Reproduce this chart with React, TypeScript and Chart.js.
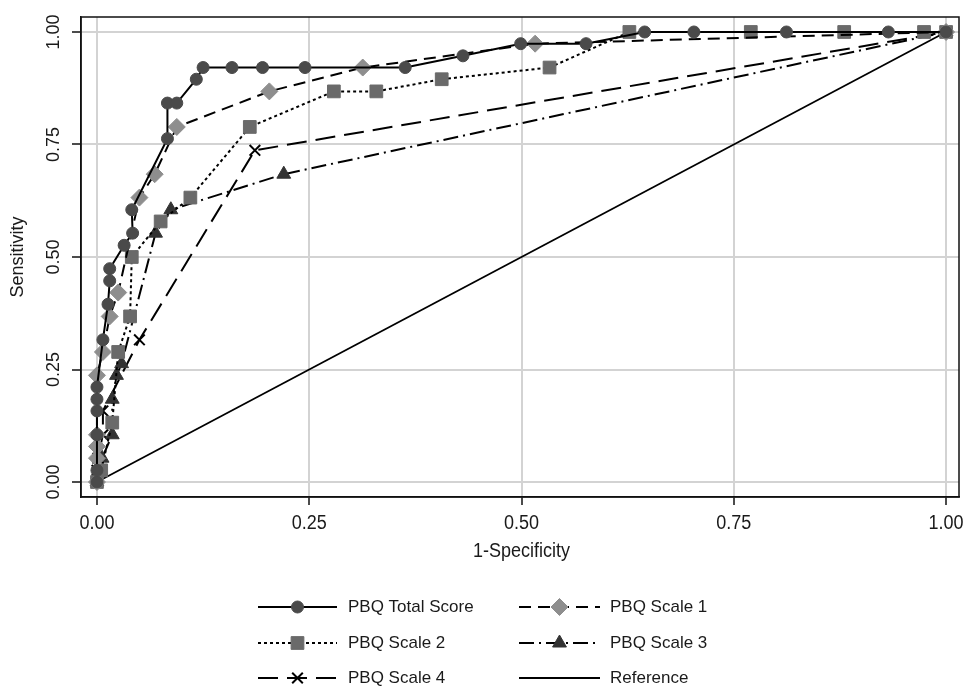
import React, { useEffect, useRef } from 'react';
import { Chart, registerables } from 'chart.js';
import { drawPoint } from 'chart.js/helpers';

Chart.register(...registerables);

const FONT = "'Liberation Sans', Arial, sans-serif";
const X_FONT_SIZE = 20;
const X_CONDENSE = 0.9;
const Y_FONT_SIZE = 18;
const LEGEND_FONT_SIZE = 17;

const xTickValues = [0, 0.25, 0.5, 0.75, 1];
const yTickValues = [0, 0.25, 0.5, 0.75, 1];
const tickLabels = ['0.00', '0.25', '0.50', '0.75', '1.00'];
const xTitle = '1-Specificity';
const yTitle = 'Sensitivity';

const seriesNames = ['PBQ Total Score', 'PBQ Scale 1', 'PBQ Scale 2', 'PBQ Scale 3', 'PBQ Scale 4', 'Reference'];

const totalX = [0, 0, 0, 0, 0, 0, 0.007, 0.013, 0.015, 0.015, 0.032, 0.042, 0.041, 0.083, 0.083, 0.094, 0.117, 0.125, 0.159, 0.195, 0.245, 0.363, 0.431, 0.499, 0.576, 0.645, 0.703, 0.812, 0.932, 1];
const totalY = [0, 0.026, 0.105, 0.158, 0.184, 0.211, 0.316, 0.395, 0.447, 0.474, 0.526, 0.553, 0.605, 0.763, 0.842, 0.842, 0.895, 0.921, 0.921, 0.921, 0.921, 0.921, 0.947, 0.974, 0.974, 1, 1, 1, 1, 1];

const s1X = [0, 0, 0, 0, 0, 0.007, 0.015, 0.025, 0.05, 0.068, 0.094, 0.203, 0.313, 0.516, 1];
const s1Y = [0, 0.053, 0.079, 0.105, 0.237, 0.289, 0.368, 0.421, 0.632, 0.684, 0.789, 0.868, 0.921, 0.974, 1];

const s2X = [0, 0.005, 0.018, 0.025, 0.039, 0.041, 0.075, 0.11, 0.18, 0.279, 0.329, 0.406, 0.533, 0.627, 0.77, 0.88, 0.974, 1];
const s2Y = [0, 0.026, 0.132, 0.289, 0.368, 0.5, 0.579, 0.632, 0.789, 0.868, 0.868, 0.895, 0.921, 1, 1, 1, 1, 1];

const s3X = [0, 0.006, 0.018, 0.018, 0.023, 0.029, 0.069, 0.087, 0.22, 1];
const s3Y = [0, 0.053, 0.105, 0.184, 0.237, 0.263, 0.553, 0.605, 0.684, 1];

const s4X = [0, 0, 0.001, 0.007, 0.007, 0.05, 0.186, 1];
const s4Y = [0, 0.026, 0.053, 0.105, 0.158, 0.316, 0.737, 1];

const refX = [0, 1];
const refY = [0, 1];

const zip = (xs: number[], ys: number[]) => xs.map((x, i) => ({ x, y: ys[i] }));

const legendRows = [607, 643, 678];
const legendCols = [
  { start: 258, end: 337, text: 348 },
  { start: 519, end: 600, text: 610 },
];

function condensedText(ctx: CanvasRenderingContext2D, text: string, x: number, y: number) {
  ctx.save();
  ctx.translate(x, y);
  ctx.scale(X_CONDENSE, 1);
  ctx.fillText(text, 0, 0);
  ctx.restore();
}

const customPlugin = {
  id: 'customDecor',
  afterDraw(chart: any) {
    const { ctx, chartArea, scales } = chart;
    ctx.save();
    ctx.setLineDash([]);
    ctx.strokeStyle = '#111';
    ctx.lineWidth = 1.5;
    ctx.strokeRect(chartArea.left, chartArea.top, chartArea.right - chartArea.left, chartArea.bottom - chartArea.top);

    ctx.fillStyle = '#1a1a1a';
    ctx.textAlign = 'center';
    ctx.textBaseline = 'middle';
    ctx.font = `${X_FONT_SIZE}px ${FONT}`;
    xTickValues.forEach((v, i) => {
      condensedText(ctx, tickLabels[i], scales.x.getPixelForValue(v), 523);
    });
    condensedText(ctx, xTitle, scales.x.getPixelForValue(0.5), 551);

    ctx.font = `${Y_FONT_SIZE}px ${FONT}`;
    yTickValues.forEach((v, i) => {
      ctx.save();
      ctx.translate(54, scales.y.getPixelForValue(v));
      ctx.rotate(-Math.PI / 2);
      ctx.fillText(tickLabels[i], 0, 0);
      ctx.restore();
    });
    ctx.save();
    ctx.translate(18, (chartArea.top + chartArea.bottom) / 2);
    ctx.rotate(-Math.PI / 2);
    ctx.fillText(yTitle, 0, 0);
    ctx.restore();

    chart.data.datasets.forEach((ds: any, i: number) => {
      const col = legendCols[i % 2];
      const y = legendRows[Math.floor(i / 2)];
      ctx.save();
      ctx.strokeStyle = ds.borderColor;
      ctx.lineWidth = ds.borderWidth;
      ctx.setLineDash(ds.borderDash || []);
      ctx.beginPath();
      ctx.moveTo(col.start, y);
      ctx.lineTo(col.end, y);
      ctx.stroke();
      ctx.setLineDash([]);
      if (ds.pointRadius > 0) {
        ctx.fillStyle = ds.pointBackgroundColor;
        ctx.strokeStyle = ds.pointBorderColor;
        ctx.lineWidth = ds.pointBorderWidth;
        drawPoint(ctx, { pointStyle: ds.pointStyle, rotation: 0, radius: ds.pointRadius, borderWidth: ds.pointBorderWidth }, (col.start + col.end) / 2, y);
      }
      ctx.fillStyle = '#1a1a1a';
      ctx.font = `${LEGEND_FONT_SIZE}px ${FONT}`;
      ctx.textAlign = 'left';
      ctx.textBaseline = 'middle';
      ctx.fillText(seriesNames[i], col.text, y);
      ctx.restore();
    });
    ctx.restore();
  },
};

function makeDataset(label: string, xs: number[], ys: number[], style: any) {
  return {
    label,
    data: zip(xs, ys),
    showLine: true,
    borderColor: '#000',
    borderWidth: 2,
    fill: false,
    tension: 0,
    ...style,
  };
}

export default function App() {
  const canvasRef = useRef<HTMLCanvasElement | null>(null);

  useEffect(() => {
    const canvas = canvasRef.current;
    if (!canvas) return;
    const datasets = [
      makeDataset(seriesNames[0], totalX, totalY, {
        borderDash: [],
        pointStyle: 'circle', pointRadius: 6,
        pointBackgroundColor: '#4a4a4a', pointBorderColor: '#4a4a4a', pointBorderWidth: 1,
      }),
      makeDataset(seriesNames[1], s1X, s1Y, {
        borderDash: [12, 7],
        pointStyle: 'rectRot', pointRadius: 8.5,
        pointBackgroundColor: '#8e8e8e', pointBorderColor: '#8e8e8e', pointBorderWidth: 1,
      }),
      makeDataset(seriesNames[2], s2X, s2Y, {
        borderDash: [3, 3],
        pointStyle: 'rect', pointRadius: 9,
        pointBackgroundColor: '#6a6a6a', pointBorderColor: '#6a6a6a', pointBorderWidth: 1,
      }),
      makeDataset(seriesNames[3], s3X, s3Y, {
        borderDash: [15, 5, 2, 5],
        pointStyle: 'triangle', pointRadius: 8,
        pointBackgroundColor: '#333333', pointBorderColor: '#333333', pointBorderWidth: 1,
      }),
      makeDataset(seriesNames[4], s4X, s4Y, {
        borderDash: [20, 9],
        pointStyle: 'crossRot', pointRadius: 7.5,
        pointBackgroundColor: '#000', pointBorderColor: '#000', pointBorderWidth: 2,
      }),
      makeDataset(seriesNames[5], refX, refY, {
        borderDash: [],
        borderWidth: 1.8,
        pointRadius: 0,
        pointBackgroundColor: '#000', pointBorderColor: '#000', pointBorderWidth: 0,
      }),
    ];

    const chart = new Chart(canvas, {
      type: 'scatter',
      data: { datasets },
      options: {
        animation: false,
        responsive: false,
        maintainAspectRatio: false,
        layout: { padding: { left: 0, top: 17, right: 6, bottom: 0 } },
        plugins: { legend: { display: false }, tooltip: { enabled: false }, title: { display: false } },
        elements: { line: { tension: 0 } },
        scales: {
          x: {
            type: 'linear',
            min: -0.0188,
            max: 1.0152,
            afterBuildTicks: (scale: any) => { scale.ticks = xTickValues.map((v) => ({ value: v })); },
            afterFit: (scale: any) => { scale.height = 192; },
            ticks: { display: false },
            grid: { color: '#d3d3d3', lineWidth: 2, tickColor: '#111', tickWidth: 1.5, tickLength: 8, drawTicks: true },
            border: { display: true, color: '#111', width: 1.5 },
            title: { display: false },
          },
          y: {
            type: 'linear',
            min: -0.0333,
            max: 1.0333,
            afterBuildTicks: (scale: any) => { scale.ticks = yTickValues.map((v) => ({ value: v })); },
            afterFit: (scale: any) => { scale.width = 81; },
            ticks: { display: false },
            grid: { color: '#d3d3d3', lineWidth: 2, tickColor: '#111', tickWidth: 1.5, tickLength: 9, drawTicks: true },
            border: { display: true, color: '#111', width: 1.5 },
            title: { display: false },
          },
        },
      },
      plugins: [customPlugin],
    });
    return () => chart.destroy();
  }, []);

  return (
    <div style={{ position: 'absolute', left: 0, top: 0, width: 969, height: 689, background: '#fff' }}>
      <canvas ref={canvasRef} width={969} height={689} style={{ display: 'block' }} />
    </div>
  );
}
